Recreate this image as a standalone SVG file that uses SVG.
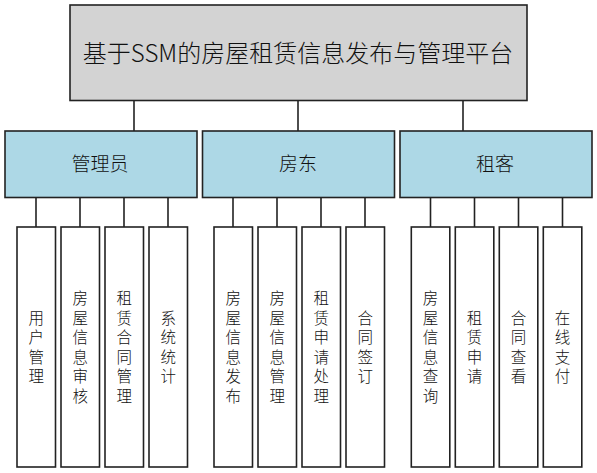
<svg xmlns="http://www.w3.org/2000/svg" width="597" height="473" viewBox="0 0 597 473">
<style>
.b{stroke:#222;stroke-width:1.6}
.top{fill:#d3d3d3}
.mid{fill:#add8e6}
.leaf{fill:#fff}
.t{font-family:"Noto Sans CJK SC","Microsoft YaHei",sans-serif;font-weight:300;fill:#111;text-anchor:middle;dominant-baseline:central}
.tt{font-size:24px}
.mt{font-size:19px}
.lt{font-size:15.5px}
.c{stroke:#222;stroke-width:1.6;fill:none}
</style>
<rect width="597" height="473" fill="#fff"/>
<g id="connectors">
<path class="c" d="M134,100.5V131M298,100.5V131M463,100.5V131"/>
<path class="c" d="M36,197.5V227M80,197.5V227M124,197.5V227M168,197.5V227"/>
<path class="c" d="M233,197.5V227M277,197.5V227M321,197.5V227M365,197.5V227"/>
<path class="c" d="M430.5,197.5V227M474.5,197.5V227M518.5,197.5V227M562.5,197.5V227"/>
</g>
<g id="root">
<rect class="b top" x="70" y="5" width="457" height="95.5"/>
<text class="t tt" x="298" y="51">基于SSM的房屋租赁信息发布与管理平台</text>
</g>
<g id="admin">
<rect class="b mid" x="5" y="131" width="192" height="66.5"/>
<text class="t mt" x="100" y="162">管理员</text>
</g>
<g id="landlord">
<rect class="b mid" x="202.5" y="131" width="192" height="66.5"/>
<text class="t mt" x="298" y="162">房东</text>
</g>
<g id="tenant">
<rect class="b mid" x="400" y="131" width="192" height="66.5"/>
<text class="t mt" x="495" y="162">租客</text>
</g>
<g id="leaf1"><rect class="b leaf" x="17" y="227" width="38.5" height="240"/>
<text class="t lt"><tspan x="36.2" y="316.6">用</tspan><tspan x="36.2" y="336.2">户</tspan><tspan x="36.2" y="355.8">管</tspan><tspan x="36.2" y="375.4">理</tspan></text></g>
<g id="leaf2"><rect class="b leaf" x="61" y="227" width="38.5" height="240"/>
<text class="t lt"><tspan x="80.2" y="297">房</tspan><tspan x="80.2" y="316.6">屋</tspan><tspan x="80.2" y="336.2">信</tspan><tspan x="80.2" y="355.8">息</tspan><tspan x="80.2" y="375.4">审</tspan><tspan x="80.2" y="395">核</tspan></text></g>
<g id="leaf3"><rect class="b leaf" x="105" y="227" width="38.5" height="240"/>
<text class="t lt"><tspan x="124.2" y="297">租</tspan><tspan x="124.2" y="316.6">赁</tspan><tspan x="124.2" y="336.2">合</tspan><tspan x="124.2" y="355.8">同</tspan><tspan x="124.2" y="375.4">管</tspan><tspan x="124.2" y="395">理</tspan></text></g>
<g id="leaf4"><rect class="b leaf" x="149" y="227" width="38.5" height="240"/>
<text class="t lt"><tspan x="168.2" y="316.6">系</tspan><tspan x="168.2" y="336.2">统</tspan><tspan x="168.2" y="355.8">统</tspan><tspan x="168.2" y="375.4">计</tspan></text></g>
<g id="leaf5"><rect class="b leaf" x="214" y="227" width="38.5" height="240"/>
<text class="t lt"><tspan x="233.2" y="297">房</tspan><tspan x="233.2" y="316.6">屋</tspan><tspan x="233.2" y="336.2">信</tspan><tspan x="233.2" y="355.8">息</tspan><tspan x="233.2" y="375.4">发</tspan><tspan x="233.2" y="395">布</tspan></text></g>
<g id="leaf6"><rect class="b leaf" x="258" y="227" width="38.5" height="240"/>
<text class="t lt"><tspan x="277.2" y="297">房</tspan><tspan x="277.2" y="316.6">屋</tspan><tspan x="277.2" y="336.2">信</tspan><tspan x="277.2" y="355.8">息</tspan><tspan x="277.2" y="375.4">管</tspan><tspan x="277.2" y="395">理</tspan></text></g>
<g id="leaf7"><rect class="b leaf" x="302" y="227" width="38.5" height="240"/>
<text class="t lt"><tspan x="321.2" y="297">租</tspan><tspan x="321.2" y="316.6">赁</tspan><tspan x="321.2" y="336.2">申</tspan><tspan x="321.2" y="355.8">请</tspan><tspan x="321.2" y="375.4">处</tspan><tspan x="321.2" y="395">理</tspan></text></g>
<g id="leaf8"><rect class="b leaf" x="346" y="227" width="38.5" height="240"/>
<text class="t lt"><tspan x="365.2" y="316.6">合</tspan><tspan x="365.2" y="336.2">同</tspan><tspan x="365.2" y="355.8">签</tspan><tspan x="365.2" y="375.4">订</tspan></text></g>
<g id="leaf9"><rect class="b leaf" x="411.3" y="227" width="38.5" height="240"/>
<text class="t lt"><tspan x="430.5" y="297">房</tspan><tspan x="430.5" y="316.6">屋</tspan><tspan x="430.5" y="336.2">信</tspan><tspan x="430.5" y="355.8">息</tspan><tspan x="430.5" y="375.4">查</tspan><tspan x="430.5" y="395">询</tspan></text></g>
<g id="leaf10"><rect class="b leaf" x="455.3" y="227" width="38.5" height="240"/>
<text class="t lt"><tspan x="474.5" y="316.6">租</tspan><tspan x="474.5" y="336.2">赁</tspan><tspan x="474.5" y="355.8">申</tspan><tspan x="474.5" y="375.4">请</tspan></text></g>
<g id="leaf11"><rect class="b leaf" x="499.3" y="227" width="38.5" height="240"/>
<text class="t lt"><tspan x="518.5" y="316.6">合</tspan><tspan x="518.5" y="336.2">同</tspan><tspan x="518.5" y="355.8">查</tspan><tspan x="518.5" y="375.4">看</tspan></text></g>
<g id="leaf12"><rect class="b leaf" x="543.3" y="227" width="38.5" height="240"/>
<text class="t lt"><tspan x="562.5" y="316.6">在</tspan><tspan x="562.5" y="336.2">线</tspan><tspan x="562.5" y="355.8">支</tspan><tspan x="562.5" y="375.4">付</tspan></text></g>
</svg>
